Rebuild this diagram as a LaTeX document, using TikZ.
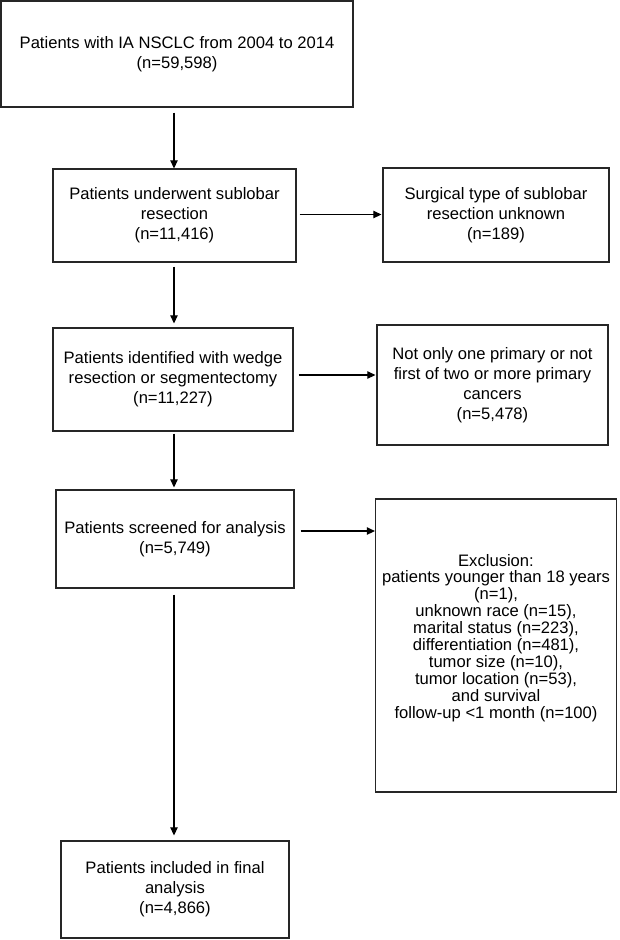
\documentclass[tikz,border=0pt]{standalone}
\usepackage{fontspec}
\setmainfont{Liberation Sans}
\usepackage{tikz}
\usetikzlibrary{positioning,arrows.meta}

\begin{document}
\begin{tikzpicture}[x=1pt, y=-1pt,
  every node/.style={font=\fontsize{16.6}{20}\selectfont, align=center},
  box/.style={draw=black!85, line width=1.3pt, inner sep=0pt},
  arr/.style={-{Triangle[length=8pt,width=7.5pt]}, line width=1.2pt}]
\useasboundingbox (0,0) rectangle (619,940);
\node[box, minimum width=352, minimum height=106] (all) at (177,54) {Patients with IA NSCLC from 2004 to 2014\\(n=59,598)};
\node[box, minimum width=243, minimum height=93] (sublobar) at (174.5,215.5) {Patients underwent sublobar\\resection\\(n=11,416)};
\node[box, minimum width=226, minimum height=94] (unknown) at (496,215) {Surgical type of sublobar\\resection unknown\\(n=189)};
\node[box, minimum width=240, minimum height=103] (wedge) at (173,379.5) {Patients identified with wedge\\resection or segmentectomy\\(n=11,227)};
\node[box, minimum width=231, minimum height=120] (primary) at (492.5,385) {Not only one primary or not\\first of two or more primary\\cancers\\(n=5,478)};
\node[box, minimum width=238, minimum height=98] (screened) at (175,539) {Patients screened for analysis\\(n=5,749)};
\node[box, minimum width=241, minimum height=293, font=\fontsize{16.6}{16.9}\selectfont] (exclusion) at (496,645.5) {Exclusion:\\patients younger than 18 years\\(n=1),\\unknown race (n=15),\\marital status (n=223),\\differentiation (n=481),\\tumor size (n=10),\\tumor location (n=53),\\and survival\\follow-up <1 month (n=100)\\[2pt]};
\node[box, minimum width=228, minimum height=97] (final) at (175,889.5) {Patients included in final\\analysis\\(n=4,866)};
\draw[arr, shorten <=5pt] (all.south -| 174,0) -- (sublobar.north -| 174,0);
\draw[arr, shorten <=4pt, shorten >=4pt] (sublobar.south -| 174,0) -- (wedge.north -| 174,0);
\draw[arr, shorten <=2pt, shorten >=2pt] (wedge.south -| 174,0) -- (screened.north -| 174,0);
\draw[arr, shorten <=6pt, shorten >=5pt] (screened.south -| 174,0) -- (final.north -| 174,0);
\draw[arr, shorten <=3pt, shorten >=1pt] ([yshift=1pt]sublobar.east) -- ([yshift=1pt]sublobar.east -| unknown.west);
\draw[arr, shorten <=5pt, shorten >=1pt] ([yshift=4.5pt]wedge.east) -- ([yshift=4.5pt]wedge.east -| primary.west);
\draw[arr, shorten <=6pt, shorten >=0pt] ([yshift=8pt]screened.east) -- ([yshift=8pt]screened.east -| exclusion.west);
\end{tikzpicture}
\end{document}
